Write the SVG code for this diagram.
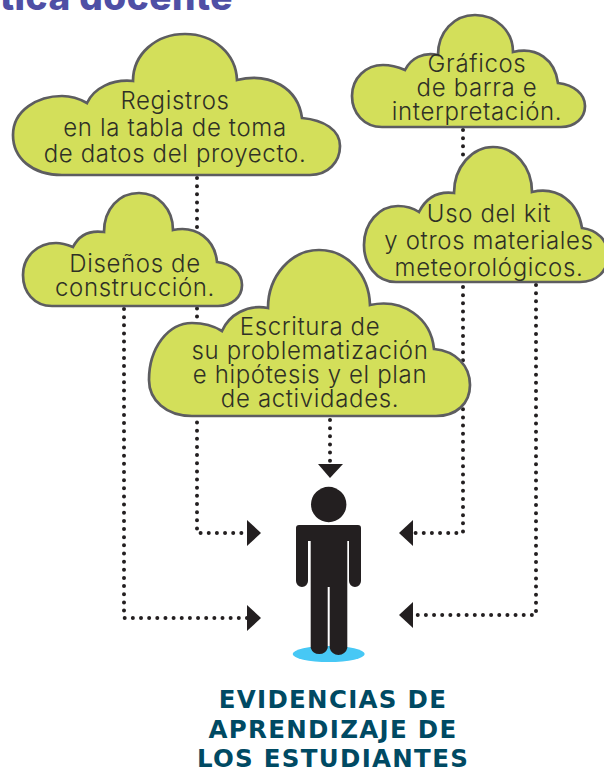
<svg xmlns="http://www.w3.org/2000/svg" width="604" height="770" viewBox="0 0 604 770">
<style>
.cloud{fill:#d3df5a;stroke:#5d5d60;stroke-width:2.7;stroke-linejoin:miter}
.t{font-family:"Inter","Liberation Sans",sans-serif;font-weight:300;font-size:24px;letter-spacing:.65px;fill:#2f3026;text-anchor:middle}
.dot{fill:none;stroke:#231f20;stroke-width:4;stroke-linecap:round;stroke-dasharray:0 8.15}
.head{fill:#231f20}
.h{font-family:"DejaVu Sans","Liberation Sans",sans-serif;font-weight:700;font-size:24.5px;letter-spacing:1.3px;fill:#004a63;text-anchor:middle}
</style>
<rect width="604" height="770" fill="#fff"/>
<text id="titulo" x="233" y="10" text-anchor="end" font-family="Inter, 'Liberation Sans', sans-serif" font-weight="800" font-size="37" letter-spacing=".5" fill="#4f4fa5">tica docente</text>
<g id="connectors">
<path class="dot" d="M197 178V533H249"/>
<path class="dot" d="M124 309V618H249"/>
<path class="dot" d="M463 130V160"/>
<path class="dot" d="M463 287V533H412"/>
<path class="dot" d="M536 285V615H412"/>
<path class="dot" d="M330 420V463"/>
<polygon class="head" points="247,520 261,533 247,546"/>
<polygon class="head" points="247,605 261,618 247,631"/>
<polygon class="head" points="413,520 399,533 413,546"/>
<polygon class="head" points="413,602 399,615 413,628"/>
<polygon class="head" points="318,464 343,464 330,478"/>
</g>
<g id="nodo-registros">
<path class="cloud" d="M62 175C32 175 13 158 13 135C13 110 38 96 62 96C71 96 80 99 87 103C94 88 112 79 133 81C133 54 156 34 185 34C214 34 236 54 237 80C270 72 298 88 302 118C324 120 340 130 340 146C340 162 328 175 310 175Z"/>
<text class="t" x="175" y="109">Registros</text>
<text class="t" x="175" y="136">en la tabla de toma</text>
<text class="t" x="175" y="162">de datos del proyecto.</text>
</g>
<g id="nodo-disenos">
<path class="cloud" d="M52 306C34 306 23 292 23 275C23 256 38 243 56 243C62 243 68 245 73 247C79 235 90 230 104 232C104 209 119 193 139 193C158 193 173 209 173 230C197 225 215 240 217 262C232 264 242 273 242 285C242 297 232 306 218 306Z"/>
<text class="t" x="135" y="272">Diseños de</text>
<text class="t" x="135" y="296">construcción.</text>
</g>
<g id="nodo-graficos">
<path class="cloud" d="M382 127C364 127 352 113 352 96C352 78 366 65 383 65C391 65 398 67 405 70C411 58 423 52 438 55C438 32 454 15 475 15C496 15 513 31 513 52C537 46 555 60 558 83C574 85 585 94 585 106C585 118 575 127 561 127Z"/>
<text class="t" x="477" y="72">Gráficos</text>
<text class="t" x="477" y="96">de barra e</text>
<text class="t" x="477" y="120">interpretación.</text>
</g>
<g id="nodo-kit">
<path class="cloud" d="M396 282C376 282 364 264 364 245C364 223 379 206 398 206C406 206 413 208 419 212C426 198 438 191 454 193C454 167 472 147 493 147C515 147 532 167 532 192C558 186 578 202 582 228C597 230 608 240 608 255C608 272 596 282 580 282Z"/>
<text class="t" x="489" y="222">Uso del kit</text>
<text class="t" x="489" y="249">y otros materiales</text>
<text class="t" x="489" y="276">meteorológicos.</text>
</g>
<g id="nodo-escritura">
<path class="cloud" d="M192 416C166 416 149 400 149 380C149 348 168 323 192 323C204 323 214 326 222 331C229 315 247 304 268 308C268 276 291 250 319 250C347 250 369 274 370 305C403 298 431 318 434 349C456 351 470 366 470 385C470 404 456 416 436 416Z"/>
<text class="t" x="310" y="335">Escritura de</text>
<text class="t" x="310" y="359">su problematización</text>
<text class="t" x="310" y="383">e hipótesis y el plan</text>
<text class="t" x="310" y="407">de actividades.</text>
</g>
<g id="estudiante">
<ellipse cx="328.7" cy="654" rx="36" ry="8" fill="#47c8f5"/>
<circle cx="328.7" cy="504.5" r="17.7" fill="#231f20"/>
<path fill="#231f20" d="M299 525H358Q361 525 361 528V581A6 6 0 0 1 349 581V541H347.3V648A9 9 0 0 1 329.7 648V587H327.7V648A9 9 0 0 1 310.7 648V541H308V581A6 6 0 0 1 296 581V528Q296 525 299 525Z"/>
</g>
<g id="etiqueta">
<text class="h" x="333" y="708">EVIDENCIAS DE</text>
<text class="h" x="333" y="738">APRENDIZAJE DE</text>
<text class="h" x="333" y="767">LOS ESTUDIANTES</text>
</g>
</svg>
